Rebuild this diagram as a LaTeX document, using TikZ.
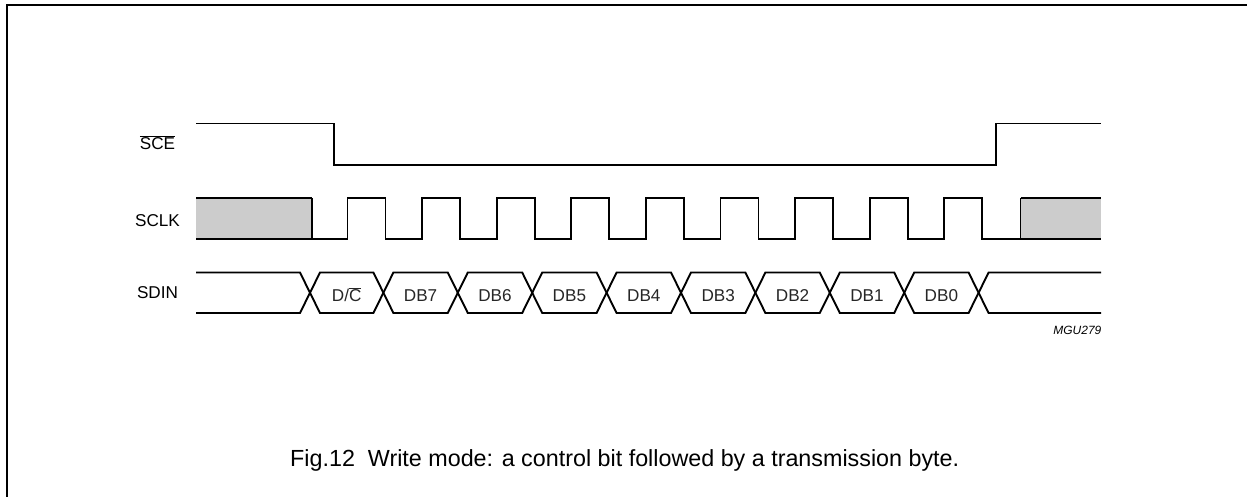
\documentclass[tikz,border=0pt]{standalone}
\usepackage{fontspec}
\setmainfont{Liberation Sans}
\begin{document}
\begin{tikzpicture}[x=1bp,y=-1bp,
  sig/.style={line width=1.9bp,line join=miter},
  frame/.style={line width=1.4bp},
  lbl/.style={font=\fontsize{17.2}{20}\selectfont,inner sep=0pt,anchor=base},
  cell/.style={font=\fontsize{17.2}{20}\selectfont,inner sep=0pt,anchor=base,text=black!85},
  tag/.style={font=\fontsize{12}{14}\selectfont\itshape,inner sep=0pt,anchor=base east},
  capt/.style={font=\fontsize{23.4}{28}\selectfont,inner sep=0pt,anchor=base west}]
\useasboundingbox (0,0) rectangle (1247,497);
% frame
\draw[frame] (7,497) -- (7,5) -- (1247,5);
% labels
\node[lbl] (lsce) at (157.5,150) {$\overline{\mbox{SCE}}$};
\node[lbl] (lsclk) at (157.5,226.5) {SCLK};
\node[lbl] (lsdin) at (157.5,298.5) {SDIN};
% SCE
\draw[sig] (196,123.5) -- (334,123.5) -- (334,165) -- (996,165) -- (996,123.5) -- (1101,123.5);
% SCLK grey areas
\fill[black!20] (196,198) rectangle (312,239);
\fill[black!20] (1020.5,198) rectangle (1101,239);
\draw[sig] (196,198) -- (312,198);
\draw[sig] (1020.5,198) -- (1101,198);
\draw[sig] (196,239) -- (312,239) -- (312,198);
\draw[sig] (312,239)
  \foreach \k in {0,...,8} {
    -- ({347.5+74.6*\k},239) -- ({347.5+74.6*\k},198)
    -- ({385.5+74.6*\k},198) -- ({385.5+74.6*\k},239)
  } -- (1020.5,239) -- (1020.5,198);
\draw[sig] (1020.5,239) -- (1101,239);
% SDIN
\def\h{10}
\draw[sig] (196,272.5)
  \foreach \c/\ya/\yb in {310/272.5/313,383.4/313/272.5,457.8/272.5/313,532.2/313/272.5,606.6/272.5/313,681/313/272.5,755.4/272.5/313,829.8/313/272.5,904.2/272.5/313,978.6/313/272.5} {
    -- ({\c-\h},\ya) -- ({\c+\h},\yb)
  } -- (1101,272.5);
\draw[sig] (196,313)
  \foreach \c/\ya/\yb in {310/313/272.5,383.4/272.5/313,457.8/313/272.5,532.2/272.5/313,606.6/313/272.5,681/272.5/313,755.4/313/272.5,829.8/272.5/313,904.2/313/272.5,978.6/272.5/313} {
    -- ({\c-\h},\ya) -- ({\c+\h},\yb)
  } -- (1101,313);
\node[cell] (b0) at ({(310+383.4)/2},301.5) {D/$\overline{\mbox{C}}$};
\foreach \k/\t in {1/DB7,2/DB6,3/DB5,4/DB4,5/DB3,6/DB2,7/DB1,8/DB0} {
  \node[cell] (b\k) at ({309+74.4*\k+37.2},301.5) {\t};
}
\node[tag] (mgu) at (1101.5,335) {MGU279};
\node[capt] (cap) at (290,466.5) {Fig.12\ \ Write mode: a control bit followed by a transmission byte.};
\end{tikzpicture}
\end{document}
